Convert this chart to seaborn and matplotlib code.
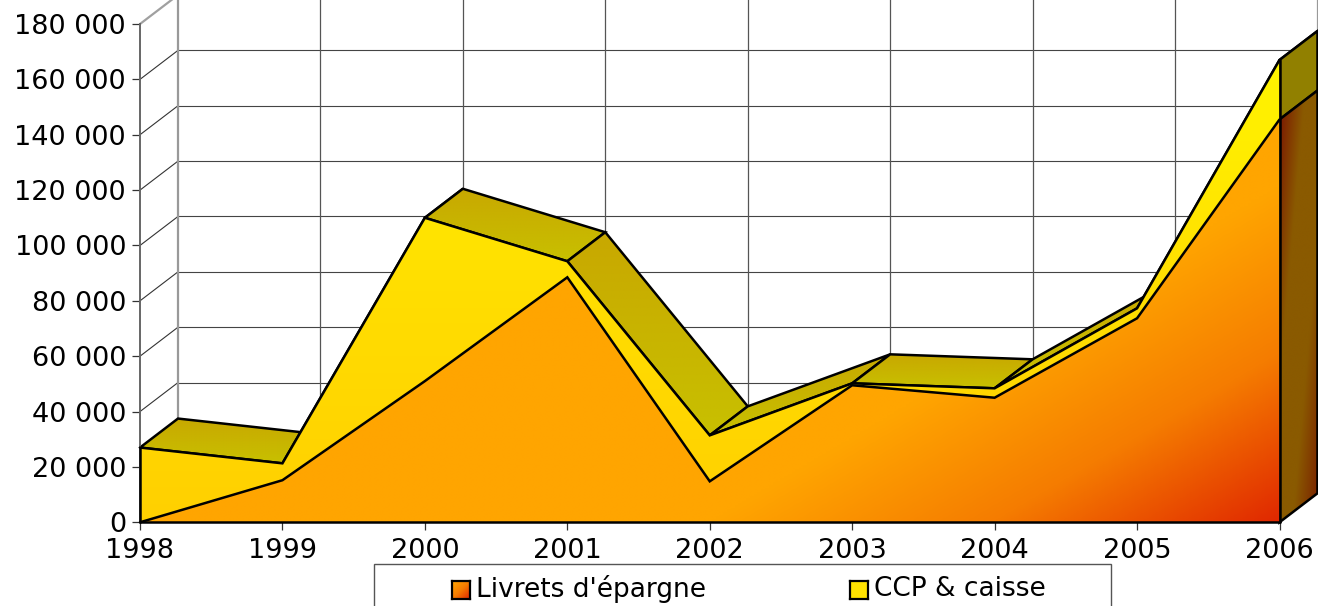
import numpy as np
import seaborn as sns
from matplotlib import pyplot as plt
from matplotlib.colors import LinearSegmentedColormap
from matplotlib.patches import Polygon, Rectangle

years = [1998, 1999, 2000, 2001, 2002, 2003, 2004, 2005, 2006]
livrets = [0, 15200, 51000, 88500, 14800, 49500, 45000, 73700, 145500]
ccp = [27000, 6100, 59000, 5800, 16600, 700, 3400, 3600, 21500]
y_ticks = [0, 20000, 40000, 60000, 80000, 100000, 120000, 140000, 160000, 180000]
legend_labels = ["Livrets d'épargne", "CCP & caisse"]

W, H = 1318, 606
LEFT, RIGHT, TOP, BOTTOM = 140, 1279.5, 24, 522.3
# depth of the fake 3D box, in data units
DX = 38 / ((RIGHT - LEFT) / 8)
DY = 29 / ((BOTTOM - TOP) / 180000)

FONT = 19.5
OUTLINE = 1.8

orange_cmap = LinearSegmentedColormap.from_list("orange", ["#ffa500", "#f57c00", "#e02800"])
yellow_cmap = LinearSegmentedColormap.from_list("yellow", ["#fff500", "#ffde00", "#ffd000"])
face_cmap = LinearSegmentedColormap.from_list("face", ["#c8c000", "#c8a800"])
wall_cmap = LinearSegmentedColormap.from_list("wall", ["#7a1400", "#8a5a00", "#8a5a00", "#7a2000"])


def fill_gradient(ax, verts, func, cmap, zorder):
    # gradient image cut out by a polygon, func maps (u, v) in the polygon box to 0-1
    verts = np.array(verts)
    x0, x1 = verts[:, 0].min(), verts[:, 0].max()
    y0, y1 = verts[:, 1].min(), verts[:, 1].max()
    u, v = np.meshgrid(np.linspace(0, 1, 300), np.linspace(0, 1, 300))
    im = ax.imshow(np.clip(func(u, v), 0, 1), extent=(x0, x1, y0, y1), origin="lower",
                   cmap=cmap, vmin=0, vmax=1, aspect="auto", zorder=zorder, interpolation="bilinear")
    patch = Polygon(verts, transform=ax.transData, facecolor="none", edgecolor="none")
    im.set_clip_path(patch)
    im.set_clip_box(ax.figure.bbox)
    return im


def outline(ax, xs, ys, zorder):
    line = sns.lineplot(x=xs, y=ys, color="black", linewidth=OUTLINE, ax=ax, zorder=zorder,
                        sort=False, estimator=None)
    line.lines[-1].set_clip_on(False)
    line.lines[-1].set_solid_joinstyle("miter")


sns.set_theme(style="white")
plt.rcParams["font.family"] = ["DejaVu Sans"]

fig = plt.figure(figsize=(W / 100, H / 100), dpi=100)
ax = fig.add_axes([LEFT / W, 1 - BOTTOM / H, (RIGHT - LEFT) / W, (BOTTOM - TOP) / H])

yrs = np.array(years, dtype=float)
low = np.array(livrets, dtype=float)
total = low + np.array(ccp, dtype=float)

# back wall and the depth lines on the left side
for y in y_ticks:
    color = "#a0a0a0" if y == y_ticks[-1] else "#333333"
    ax.plot([yrs[0], yrs[0] + DX], [y, y + DY], color=color, lw=1.6 if y == y_ticks[-1] else 0.8,
            clip_on=False, zorder=1)
    if y != y_ticks[-1]:
        ax.plot([yrs[0] + DX, yrs[-1] + DX], [y + DY, y + DY], color="#444444", lw=0.8, clip_on=False, zorder=1)
for i, x in enumerate(yrs):
    ax.plot([x + DX, x + DX], [DY, y_ticks[-1] + 2 * DY], color="#999999" if i in (0, 8) else "#555555",
            lw=1.6 if i in (0, 8) else 0.9, clip_on=False, zorder=1)

# top faces of the upper series going back into the box
for i in range(len(yrs) - 1):
    quad = [(yrs[i], total[i]), (yrs[i + 1], total[i + 1]),
            (yrs[i + 1] + DX, total[i + 1] + DY), (yrs[i] + DX, total[i] + DY)]
    fill_gradient(ax, quad, lambda u, v: v, face_cmap, 2 + i * 0.01)
    closed = quad + [quad[0]]
    outline(ax, [p[0] for p in closed], [p[1] for p in closed], 2.005 + i * 0.01)

# end wall at the right
top_wall = [(yrs[-1], total[-1]), (yrs[-1] + DX, total[-1] + DY), (yrs[-1] + DX, low[-1] + DY), (yrs[-1], low[-1])]
low_wall = [(yrs[-1], low[-1]), (yrs[-1] + DX, low[-1] + DY), (yrs[-1] + DX, DY), (yrs[-1], 0)]
ax.add_patch(Polygon(top_wall, facecolor="#918000", edgecolor="black", lw=OUTLINE, clip_on=False, zorder=3))
fill_gradient(ax, low_wall, lambda u, v: u * 0.5 + (1 - v) * 0.5, wall_cmap, 3.01)
outline(ax, [p[0] for p in low_wall] + [low_wall[0][0]], [p[1] for p in low_wall] + [low_wall[0][1]], 3.02)

# front of the two stacked areas
band = list(zip(yrs, total)) + list(zip(yrs[::-1], low[::-1]))
fill_gradient(ax, band, lambda u, v: 1 - v, yellow_cmap, 4)
area = list(zip(yrs, low)) + [(yrs[-1], 0), (yrs[0], 0)]
fill_gradient(ax, area, lambda u, v: (u - 0.6 * v - 0.5) / 0.5, orange_cmap, 4.01)
outline(ax, yrs, total, 4.02)
outline(ax, yrs, low, 4.03)
outline(ax, [yrs[0], yrs[0]], [0, total[0]], 4.04)
outline(ax, [yrs[-1], yrs[-1]], [0, total[-1]], 4.04)
outline(ax, [yrs[0], yrs[-1]], [0, 0], 4.04)

ax.set_xlim(yrs[0], yrs[-1])
ax.set_ylim(0, y_ticks[-1])
ax.set_xticks(years)
ax.set_yticks(y_ticks)
ax.set_yticklabels([f"{y:,}".replace(",", " ") for y in y_ticks])
ax.set_xlabel("")
ax.set_ylabel("")
ax.tick_params(axis="both", length=6, width=0.9, color="#333333", labelsize=FONT, labelcolor="black", bottom=True, left=True)
ax.tick_params(axis="x", pad=5)
ax.tick_params(axis="y", pad=4)
ax.patch.set_visible(False)
sns.despine(ax=ax, top=True, right=True)
ax.spines["left"].set_color("#666666")
ax.spines["left"].set_linewidth(1.4)
ax.spines["bottom"].set_visible(False)

# legend box runs off the bottom of the picture
fig.add_artist(Rectangle((374 / W, -0.05), (1111 - 374) / W, 0.05 + 1 - 564 / H, transform=fig.transFigure,
                         facecolor="white", edgecolor="#555555", lw=1.0, zorder=10))
swatches = [(452, orange_cmap, lambda u, v: (u + (1 - v)) / 2), (850, yellow_cmap, lambda u, v: 0.4 * np.ones_like(u))]
for label, (sx, cmap, func) in zip(legend_labels, swatches):
    sw = fig.add_axes([sx / W, 1 - 599 / H, 18 / W, 18 / H], zorder=11)
    u, v = np.meshgrid(np.linspace(0, 1, 30), np.linspace(0, 1, 30))
    sw.imshow(func(u, v), origin="lower", cmap=cmap, vmin=0, vmax=1, aspect="auto")
    sw.set_xticks([])
    sw.set_yticks([])
    for spine in sw.spines.values():
        spine.set_visible(True)
        spine.set_color("black")
        spine.set_linewidth(1.6)
    fig.text((sx + 24) / W, 1 - 589 / H, label, fontsize=FONT - 0.5, color="black", va="center", ha="left", zorder=12)

fig.savefig("out.png", dpi=100, facecolor="white")
